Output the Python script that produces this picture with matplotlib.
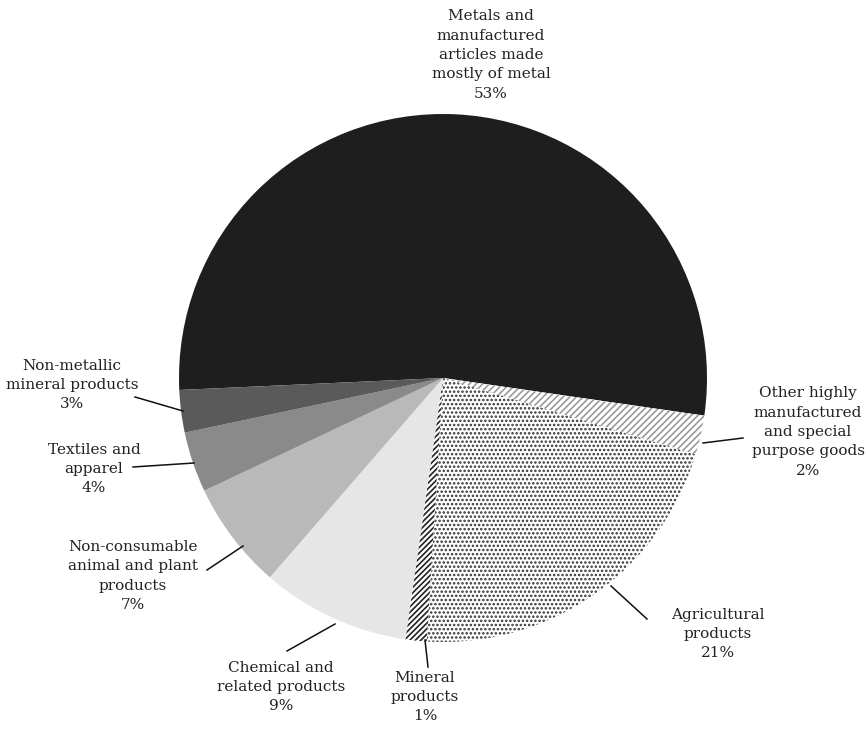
import matplotlib
matplotlib.use("Agg")
import matplotlib.pyplot as plt

categories = [
    "Metals and\nmanufactured\narticles made\nmostly of metal",
    "Other highly\nmanufactured\nand special\npurpose goods",
    "Agricultural\nproducts",
    "Mineral\nproducts",
    "Chemical and\nrelated products",
    "Non-consumable\nanimal and plant\nproducts",
    "Textiles and\napparel",
    "Non-metallic\nmineral products",
]
shares = [53.0, 2.4, 21.3, 1.3, 9.1, 6.6, 3.7, 2.6]

colors = ["#1e1e1e", "white", "white", "white", "#e6e6e6", "#b9b9b9", "#8a8a8a", "#5a5a5a"]
hatches = [None, "/////", "....", "//////", None, None, None, None]
hatch_colors = ["#1e1e1e", "#9a9a9a", "#333333", "#222222", "#e6e6e6", "#b9b9b9", "#8a8a8a", "#5a5a5a"]

W, H = 866, 729
plt.rcParams["hatch.linewidth"] = 1.2
fig = plt.figure(figsize=(W / 100, H / 100), dpi=100)
ax = fig.add_axes([0, 0, 1, 1])

cx, cy, R = 443, H - 378, 264
wedges, _ = ax.pie(shares, colors=colors, startangle=182.6, counterclock=False,
                   center=(cx, cy), radius=R, frame=True,
                   wedgeprops=dict(linewidth=0))
for w, h, hc in zip(wedges, hatches, hatch_colors):
    if h:
        w.set_hatch(h)
        w.set_edgecolor(hc)
        w.set_linewidth(0)
ax.set_xlim(0, W)
ax.set_ylim(0, H)
ax.set_aspect("equal")
ax.axis("off")

# label layout (image pixel coords: text center, leader line start/end)
label_pos = [(491, 55), (808, 432), (718, 634), (425, 697), (281, 687), (133, 576), (94, 469), (72, 385)]
leaders = [None, ((703, 443), (743, 438)), ((611, 586), (647, 619)), ((425, 640), (428, 667)),
           ((335, 624), (287, 651)), ((243, 546), (207, 570)), ((194, 463), (133, 467)),
           ((183, 411), (135, 397))]

font = dict(family=["DejaVu Serif"], fontsize=11, color="#222222")
for cat, v, (tx, ty), ld in zip(categories, shares, label_pos, leaders):
    ax.text(tx, H - ty, f"{cat}\n{v:.0f}%", ha="center", va="center",
            linespacing=1.48, **font)
    if ld:
        (x0, y0), (x1, y1) = ld
        ax.plot([x0, x1], [H - y0, H - y1], color="#111111", lw=1.1)

fig.savefig("out.png", dpi=100)
